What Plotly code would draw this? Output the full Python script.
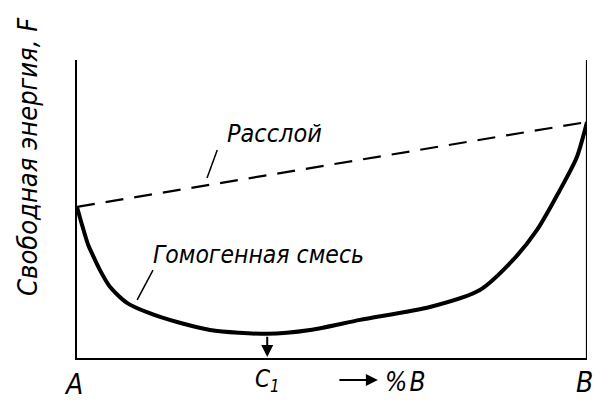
import plotly.graph_objects as go

# Homogeneous mixture free-energy curve (x = %B, y = F, arbitrary units)
curve_x = [0, 1.0, 2.2, 3.1, 4.5, 6.5, 9.8, 16.3, 26.1, 37.3, 45.7, 55.5, 69.2, 79.0, 85.5, 90.2, 94.7, 98.0, 100]
curve_y = [50.7, 44.6, 37.9, 34.5, 29.5, 23.8, 18.5, 13.8, 9.4, 8.1, 9.4, 12.8, 17.1, 22.8, 32.9, 43.0, 56.4, 67.4, 79.2]

# Separated (two-phase) mixture line
sep_x = [0, 100]
sep_y = [50.7, 79.2]

# Composition of the minimum
c1_x = 37.3
c1_y = 8.1

tick_labels = ["A", "C<sub>1</sub>", "B"]
tick_pos = [0, c1_x, 100]
tick_shift = [-4, 0, -3]
tick_sizes = [28, 24, 28]
tick_y = [-0.088, -0.075, -0.083]

FONT = "Liberation Sans Narrow, DejaVu Sans Condensed, Arial Narrow, sans-serif"

fig = go.Figure()
fig.add_trace(go.Scatter(x=sep_x, y=sep_y, mode="lines",
                         line=dict(color="black", width=2.2, dash="18px,11px"),
                         hoverinfo="skip", showlegend=False))
fig.add_trace(go.Scatter(x=curve_x, y=curve_y, mode="lines",
                         line=dict(color="black", width=4, shape="spline", smoothing=0.7),
                         hoverinfo="skip", showlegend=False))

ann = []
for t, p, sh, s, yy in zip(tick_labels, tick_pos, tick_shift, tick_sizes, tick_y):
    ann.append(dict(x=p, y=yy, xref="x", yref="paper", text=t, showarrow=False,
                    xanchor="center", yanchor="middle", xshift=sh,
                    font=dict(family=FONT, size=s, color="black", style="italic")))

# arrow from minimum down to axis
ann.append(dict(x=c1_x, y=0.3, ax=c1_x, ay=c1_y - 0.5, xref="x", yref="y", axref="x", ayref="y",
                text="", showarrow=True, arrowhead=2, arrowsize=1.2, arrowwidth=2, arrowcolor="black"))
# "-> %B"
ann.append(dict(x=59.0, y=-0.074, ax=-40, ay=0, xref="x", yref="paper", text="", showarrow=True,
                arrowhead=2, arrowsize=1.2, arrowwidth=2, arrowcolor="black"))
ann.append(dict(x=64.5, y=-0.08, xref="x", yref="paper", text="%&#8202;B", showarrow=False,
                xanchor="center", yanchor="middle",
                font=dict(family=FONT, size=26, color="black", style="italic")))

# curve labels
ann.append(dict(x=38.8, y=75.5, xref="x", yref="y", text="Расслой", showarrow=False,
                xanchor="center", yanchor="middle",
                font=dict(family=FONT, size=25, color="black", style="italic")))
ann.append(dict(x=35.5, y=34.6, xref="x", yref="y", text="Гомогенная смесь", showarrow=False,
                xanchor="center", yanchor="middle",
                font=dict(family=FONT, size=24.5, color="black", style="italic")))

# y title
ann.append(dict(x=-0.096, y=0.675, xref="paper", yref="paper", text="Свободная энергия, F",
                textangle=-90, showarrow=False, xanchor="center", yanchor="middle",
                font=dict(family=FONT, size=27, color="black", style="italic")))

shapes = [
    dict(type="line", xref="x", yref="y", x0=100, x1=100, y0=0, y1=100,
         line=dict(color="black", width=2.2)),
    dict(type="line", xref="x", yref="y", x0=25.5, y0=60.4, x1=27.5, y1=69.8,
         line=dict(color="black", width=1.5)),
    dict(type="line", xref="x", yref="y", x0=11.8, y0=19.5, x1=14.9, y1=29.5,
         line=dict(color="black", width=1.5)),
]

fig.update_layout(
    width=594, height=400,
    margin=dict(l=77, r=7, t=60, b=42),
    paper_bgcolor="white", plot_bgcolor="white",
    xaxis=dict(range=[0, 100], showline=True, linecolor="black", linewidth=2.2,
               showgrid=False, zeroline=False, showticklabels=False, ticks=""),
    yaxis=dict(range=[0, 100], showline=True, linecolor="black", linewidth=2.2,
               showgrid=False, zeroline=False, showticklabels=False, ticks=""),
    annotations=ann, shapes=shapes, showlegend=False,
)

fig.write_html("out.html", config={"displayModeBar": False},
               post_script="document.body.style.margin='0';document.body.style.overflow='hidden';")
